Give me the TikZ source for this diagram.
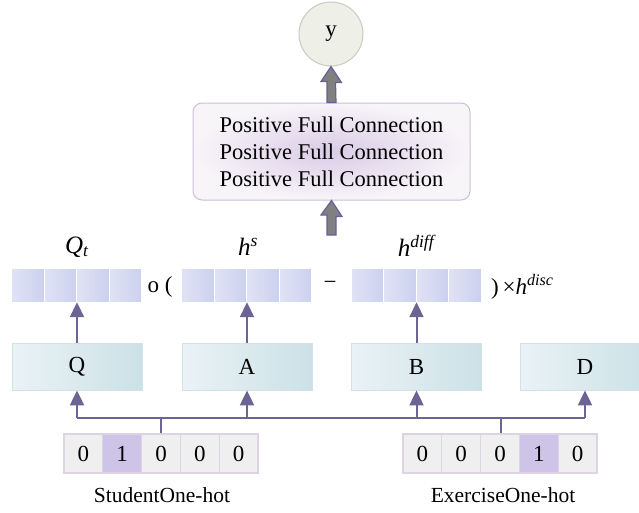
\documentclass[tikz,border=0pt]{standalone}
\usepackage{fontspec}
\setmainfont{Liberation Serif}
\usetikzlibrary{arrows.meta,calc}
\definecolor{lineC}{HTML}{6B6494}
\definecolor{vL}{HTML}{E0E3F5}
\definecolor{vR}{HTML}{CBD0EE}
\definecolor{bL}{HTML}{EAF2F6}
\definecolor{bR}{HTML}{CCE1E6}
\definecolor{bD}{HTML}{CFE2E7}
\definecolor{pIn}{HTML}{DACBE6}
\definecolor{pOut}{HTML}{F8F5F9}
\definecolor{pD}{HTML}{CBBFD8}
\definecolor{cG}{HTML}{EFEFEF}
\definecolor{cH}{HTML}{CDC4E8}
\definecolor{cB}{HTML}{DCD3E3}
\definecolor{yF}{HTML}{EEF0E8}
\definecolor{yD}{HTML}{C9CBC1}
\definecolor{fatF}{HTML}{808080}
\definecolor{fatD}{HTML}{6A5F9A}
\begin{document}
\begin{tikzpicture}[x=1pt,y=-1pt,
  txt/.style={font=\fontsize{23}{27}\selectfont, inner sep=0pt},
  vbox/.style={rectangle, minimum width=130pt, minimum height=34pt, inner sep=0pt},
  vcell/.style={rectangle, minimum width=32.5pt, minimum height=34pt, inner sep=0pt,
    left color=vL, right color=vR, draw=white, line width=1pt},
  lbox/.style={rectangle, minimum width=130pt, minimum height=47pt, inner sep=0pt,
    left color=bL, right color=bR, draw=bD, line width=0.8pt, font=\fontsize{23}{27}\selectfont},
  ocell/.style={rectangle, minimum width=38.8pt, minimum height=39pt, inner sep=0pt,
    fill=cG, draw=cB, line width=1.2pt, font=\fontsize{23}{27}\selectfont},
  conn/.style={draw=lineC, line width=2pt},
  arr/.style={conn, -{Triangle[width=14pt,length=15pt]}},
  fat/.style={fill=fatF, draw=fatD, line width=1.2pt, line join=miter}
]
\useasboundingbox (0,0) rectangle (639,512);
\clip (0,0) rectangle (639,512);

% output circle
\node[circle, minimum size=64pt, inner sep=0pt, fill=yF, draw=yD, line width=1pt,
  font=\fontsize{23}{27}\selectfont] (y) at (331,34) {y};

% full connection box
\node[rectangle, rounded corners=9pt, minimum width=277pt, minimum height=97pt,
  inner color=pIn, outer color=pOut, draw=pD, line width=1pt, align=center,
  font=\fontsize{22.5}{27}\selectfont] (fc) at (331.5,151.5)
  {Positive Full Connection\\Positive Full Connection\\Positive Full Connection};

% thick arrows
\draw[fat] (y.south) -- ++(10.5,16) -- ++(-6,0) -- ($(fc.north)+(4.5,0)$)
  -- ($(fc.north)+(-4.5,0)$) -- ++(0,-21) -- ++(-6,0) -- cycle;
\coordinate (fatbase) at (331.5,235);
\draw[fat] (fc.south) -- ++(10.5,16) -- ++(-6,0) -- ($(fatbase)+(4.5,0)$)
  -- ($(fatbase)+(-4.5,0)$) -- ++(0,-20) -- ++(-6,0) -- cycle;

% vectors
\foreach \nm/\cx in {qt/77, hs/247, hd/416.5}{
  \node[vbox] (\nm) at (\cx,285) {};
  \foreach \i in {0,...,3}{
    \node[vcell] (\nm-\i) at ($(\nm.west)+(16.25+32.5*\i,0)$) {};
  }
}
\node[font=\fontsize{25}{29}\selectfont, inner sep=0pt] (lqt) at (77,247) {\textit{Q}\textsubscript{\textit{t}}};
\node[font=\fontsize{25}{29}\selectfont, inner sep=0pt] (lhs) at (248,247) {\textit{h}\textsuperscript{\textit{s}}};
\node[font=\fontsize{25}{29}\selectfont, inner sep=0pt] (lhd) at (417,246) {\textit{h}\textsuperscript{\textit{diff}}};
\node[txt] (op1) at (160,287) {o (};
\node[txt] (op2) at (330,285) {−};
\node[txt, anchor=west] (op3) at (491,287) {)\,×\textit{h}\textsuperscript{\textit{disc}}};

% embedding boxes
\node[lbox] (Q) at (77,366.5) {Q};
\node[lbox] (A) at (247,366.5) {A};
\node[lbox] (B) at (416.5,366.5) {B};
\node[lbox] (D) at (585,366.5) {D};

\draw[arr] (Q.north) -- (qt.south);
\draw[arr] (A.north) -- (hs.south);
\draw[arr] (B.north) -- (hd.south);

% one-hot vectors
\foreach \v [count=\k from 0] in {0,1,0,0,0}{
  \node[ocell] (s\k) at (83.4+38.8*\k,453.5) {\v};
}
\foreach \v [count=\k from 0] in {0,0,0,1,0}{
  \node[ocell] (e\k) at (422.4+38.8*\k,453.5) {\v};
}
\node[ocell, fill=cH] at (s1) {1};
\node[ocell, fill=cH] at (e3) {1};

\node[font=\fontsize{21.5}{25}\selectfont, inner sep=0pt] (sl) at (162,495) {StudentOne-hot};
\node[font=\fontsize{21.5}{25}\selectfont, inner sep=0pt] (el) at (503,495) {ExerciseOne-hot};

% bus
\coordinate (bq) at (Q.south |- 0,418);
\coordinate (ba) at (A.south |- 0,418);
\coordinate (bb) at (B.south |- 0,418);
\coordinate (bd) at (D.south |- 0,418);
\draw[conn] (bq) -- (bd);
\draw[conn] (s2.north) -- (s2.north |- bq);
\draw[conn] ($(e2.north)+(0.5,0)$) -- ($(e2.north |- bq)+(0.5,0)$);
\draw[arr] (bq) -- (Q.south);
\draw[arr] (ba) -- (A.south);
\draw[arr] (bb) -- (B.south);
\draw[arr] (bd) -- (D.south);
\end{tikzpicture}
\end{document}
